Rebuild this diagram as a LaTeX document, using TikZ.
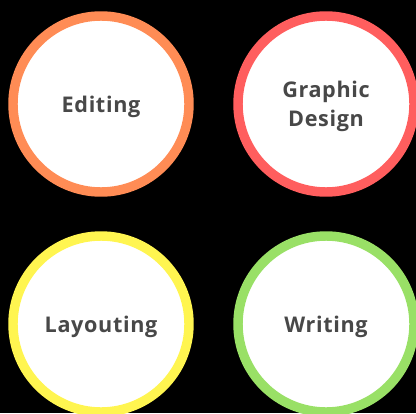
\documentclass[tikz,border=0pt]{standalone}
\usepackage{fontspec}
\setmainfont{Open Sans}[LetterSpace=3]
\definecolor{ringorange}{RGB}{255,140,85}
\definecolor{ringred}{RGB}{255,94,94}
\definecolor{ringyellow}{RGB}{255,245,80}
\definecolor{ringgreen}{RGB}{153,224,102}
\definecolor{labelgray}{RGB}{72,72,72}
\begin{document}
\begin{tikzpicture}[x=0.75pt,y=0.75pt,yscale=-1,xscale=1,
  skill/.style={circle,fill=white,line width=7.1pt,minimum size=176*0.75pt,inner sep=0pt,
    text depth=0pt,text=labelgray,font=\bfseries\fontsize{16.2}{21.75}\selectfont,align=center}]
%background, fixes the page size
\fill [black] (0,0) rectangle (416,413) ;
\useasboundingbox (0,0) rectangle (416,413) ;

%Shape: Circle [Editing]
\node [skill,draw=ringorange] (edit) at (101,104) {Editing};
%Shape: Circle [Graphic Design]
\node [skill,draw=ringred] (graphic) at (326,104) {Graphic\\Design};
%Shape: Circle [Layouting]
\node [skill,draw=ringyellow] (layout) at (101,324) {Layouting};
%Shape: Circle [Writing]
\node [skill,draw=ringgreen] (write) at (326,324) {Writing};

\end{tikzpicture}
\end{document}
